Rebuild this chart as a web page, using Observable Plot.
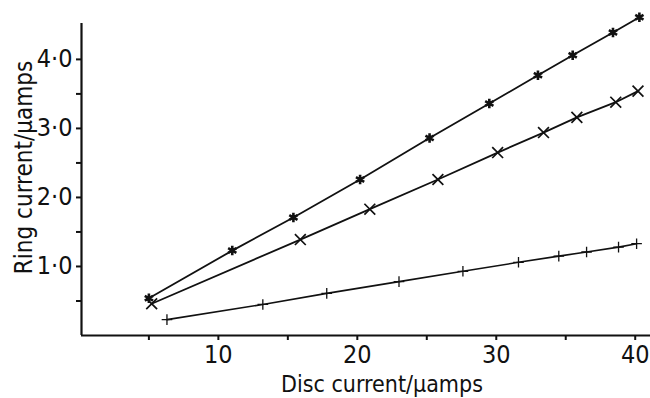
<!DOCTYPE html>
<html>
<head>
<meta charset="utf-8">
<script src="https://cdn.jsdelivr.net/npm/d3@7"></script>
<script src="https://cdn.jsdelivr.net/npm/@observablehq/plot@0.6"></script>
<style>
  html, body { margin: 0; padding: 0; background: #fff; }
</style>
</head>
<body>
<div id="chart"></div>
<script>
// Series (disc current in µA, ring current in µA)
const starX  = [5.0, 11.0, 15.4, 20.2, 25.2, 29.5, 33.0, 35.5, 38.4, 40.3];
const starY  = [0.54, 1.23, 1.71, 2.26, 2.86, 3.36, 3.77, 4.06, 4.39, 4.61];
const crossX = [5.2, 15.9, 20.9, 25.8, 30.1, 33.4, 35.8, 38.6, 40.2];
const crossY = [0.46, 1.39, 1.83, 2.26, 2.65, 2.94, 3.16, 3.38, 3.54];
const plusX  = [6.3, 13.2, 17.8, 23.0, 27.6, 31.6, 34.5, 36.5, 38.8, 40.1];
const plusY  = [0.23, 0.45, 0.61, 0.78, 0.93, 1.06, 1.15, 1.21, 1.28, 1.33];

const xMajor = [10, 20, 30, 40];
const xMinor = [5, 15, 25, 35];
const xTickLabels = ["10", "20", "30", "40"];
const yMajor = [1, 2, 3, 4];
const yMinor = [0.5, 1.5, 2.5, 3.5];
const yTickLabels = ["1·0", "2·0", "3·0", "4·0"];

const xLabel = "Disc current/µamps";
const yLabel = "Ring current/µamps";
const xDomain = [0.15, 41.1];
const yDomain = [0, 4.52];

const toRows = (xs, ys) => xs.map((x, i) => ({x, y: ys[i]}));
const star = toRows(starX, starY);
const cross = toRows(crossX, crossY);
const plus = toRows(plusX, plusY);

const font = "'DejaVu Sans Condensed', 'DejaVu Sans', sans-serif";

const chart = Plot.plot({
  width: 650,
  height: 398,
  marginLeft: 81,
  marginRight: 0,
  marginTop: 23,
  marginBottom: 63,
  x: {domain: xDomain},
  y: {domain: yDomain},
  style: {fontFamily: font, background: "#fff", color: "#111"},
  marks: [
    Plot.axisX({ticks: xMajor, tickSize: 5, tickPadding: 5, tickFormat: (d) => xTickLabels[xMajor.indexOf(d)], fontSize: 25, label: null, strokeWidth: 2}),
    Plot.axisX({ticks: xMinor, tickSize: 5, tickFormat: () => "", label: null, strokeWidth: 2}),
    Plot.axisY({ticks: yMajor, tickSize: 5, tickPadding: 4, tickFormat: (d) => yTickLabels[yMajor.indexOf(d)], fontSize: 25, label: null, strokeWidth: 2}),
    Plot.axisY({ticks: yMinor, tickSize: 5, tickFormat: () => "", label: null, strokeWidth: 2}),
    Plot.ruleY([yDomain[0]], {stroke: "#111", strokeWidth: 2.2}),
    Plot.ruleX([xDomain[0]], {stroke: "#111", strokeWidth: 2.2}),
    Plot.line(star, {x: "x", y: "y", stroke: "#111", strokeWidth: 1.8}),
    Plot.line(cross, {x: "x", y: "y", stroke: "#111", strokeWidth: 1.8}),
    Plot.line(plus, {x: "x", y: "y", stroke: "#111", strokeWidth: 1.6}),
    Plot.dot(star, {x: "x", y: "y", symbol: "asterisk", r: 4.5, stroke: "#111", strokeWidth: 2.6}),
    Plot.dot(cross, {x: "x", y: "y", symbol: "times", r: 5, stroke: "#111", strokeWidth: 1.7}),
    Plot.dot(plus, {x: "x", y: "y", symbol: "plus", r: 3.5, stroke: "#111", strokeWidth: 1.3}),
    Plot.text([yLabel], {frameAnchor: "left", textAnchor: "middle", lineAnchor: "middle", rotate: -90, dx: -57, dy: -12, fontSize: 24, fill: "#111"}),
    Plot.text([xLabel], {frameAnchor: "bottom", textAnchor: "middle", lineAnchor: "middle", dx: 16, dy: 49, fontSize: 23, fill: "#111"})
  ]
});
document.getElementById("chart").appendChild(chart);
</script>
</body>
</html>
